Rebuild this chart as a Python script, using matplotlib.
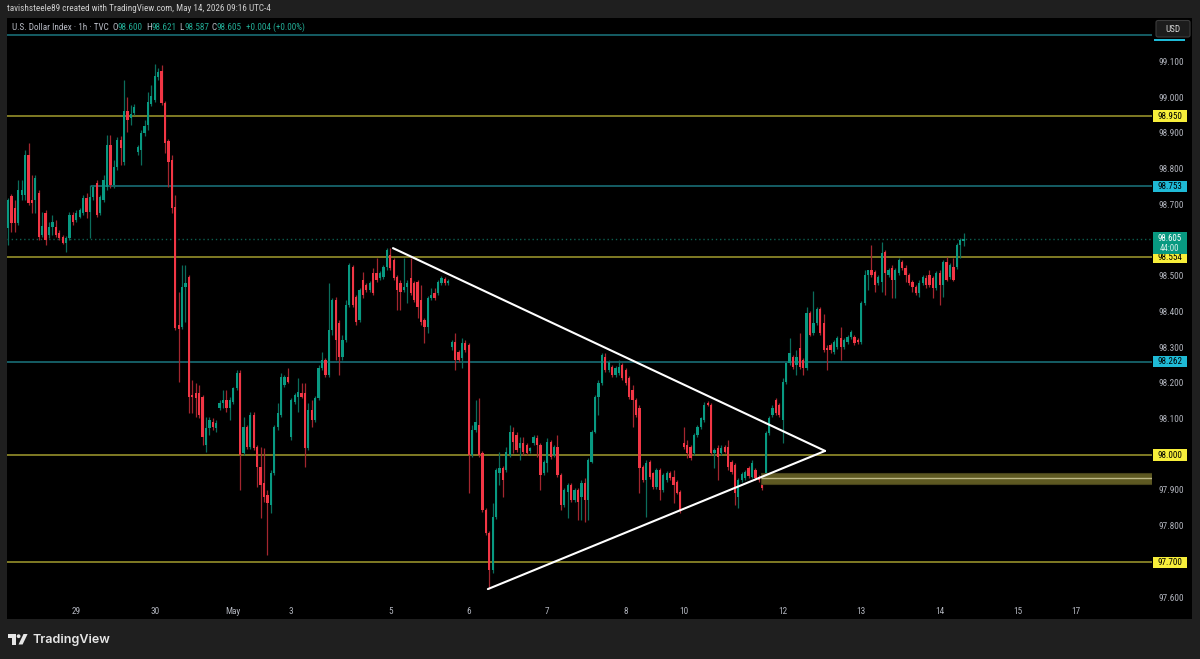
import numpy as np
import matplotlib
matplotlib.use('Agg')
import matplotlib.pyplot as plt
from matplotlib.transforms import Affine2D, blended_transform_factory
from matplotlib.patches import Rectangle, FancyBboxPatch, Polygon, Circle
from matplotlib import font_manager as fm

# ---------------- data (hourly candles, U.S. Dollar Index, TVC) ----------------
O = [98.636, 98.726, 98.692, 98.650, 98.729, 98.729, 98.841, 98.715, 98.715, 98.734,
     98.617, 98.678, 98.617, 98.639, 98.639, 98.622, 98.611, 98.594, 98.608, 98.673,
     98.659, 98.667, 98.678, 98.720, 98.681, 98.723, 98.762, 98.678, 98.715, 98.751,
     98.869, 98.757, 98.807, 98.883, 98.821, 98.964, 98.944, 98.958, 98.849, 98.855,
     98.902, 98.925, 98.984, 98.995, 99.059, 99.076, 98.986, 98.880, 98.827, 98.695,
     98.365, 98.359, 98.471, 98.499, 98.169, 98.174, 98.174, 98.163, 98.028, 98.076,
     98.093, 98.076, 98.132, 98.146, 98.155, 98.132, 98.149, 98.188, 98.230, 98.006,
     98.079, 98.023, 98.113, 98.023, 97.967, 97.922, 97.888, 97.860, 97.950, 98.079,
     98.113, 98.197, 98.219,
     98.051, 98.149, 98.163, 98.174, 98.174, 98.020, 98.127, 98.099, 98.160, 98.244,
     98.267, 98.225, 98.351, 98.435, 98.370, 98.275, 98.323, 98.421, 98.527, 98.443,
     98.379, 98.491, 98.477, 98.463, 98.510, 98.510, 98.496, 98.499, 98.527, 98.561,
     98.547, 98.499, 98.482, 98.463, 98.471, 98.496, 98.482, 98.485, 98.435, 98.379,
     98.359, 98.440, 98.454, 98.454, 98.482, 98.494, 98.482, 98.303, 98.317, 98.289,
     98.272, 98.314, 98.309,
     98.001, 98.071, 98.085, 98.006, 97.846, 97.782, 97.678, 97.827, 97.950, 97.964,
     97.958, 98.001, 98.065, 98.057, 98.020, 98.034, 98.028, 98.012, 98.034, 98.048,
     98.028, 97.950, 97.978, 98.037, 98.001, 98.023, 97.945, 97.860, 97.897, 97.917,
     97.874, 97.902, 97.883, 97.922, 97.874, 97.981, 98.065, 98.163, 98.202, 98.275,
     98.239, 98.247, 98.225, 98.230, 98.253, 98.239, 98.216, 98.183, 98.155, 98.132,
     97.967, 97.930, 97.981, 97.950, 97.911, 97.958, 97.902, 97.930, 97.950, 97.939,
     97.925, 97.897,
     98.034, 98.028, 98.023, 98.006, 98.057, 98.079, 98.099, 98.146, 98.141, 98.006,
     98.020, 98.006, 98.023, 98.023, 97.981, 97.972, 97.883, 97.930, 97.936, 97.964,
     97.939, 97.958, 97.939, 97.930, 97.930, 98.062, 98.113, 98.155, 98.141, 98.099,
     98.205, 98.258, 98.275, 98.253, 98.300, 98.267, 98.244, 98.398, 98.342, 98.370,
     98.409, 98.370, 98.300, 98.309, 98.289, 98.303, 98.328, 98.303, 98.317, 98.331,
     98.331, 98.323, 98.317, 98.426, 98.505, 98.519, 98.513, 98.482, 98.485, 98.569,
     98.505, 98.524, 98.491, 98.510, 98.541, 98.524, 98.505, 98.485, 98.471, 98.454,
     98.482, 98.496, 98.505, 98.496, 98.468, 98.510, 98.477, 98.541, 98.499, 98.527,
     98.527, 98.589, 98.600]
Hi = [98.720, 98.732, 98.715, 98.771, 98.771, 98.855, 98.874, 98.785, 98.785, 98.743,
      98.681, 98.687, 98.653, 98.673, 98.659, 98.631, 98.617, 98.614, 98.681, 98.681,
      98.687, 98.692, 98.729, 98.734, 98.757, 98.757, 98.771, 98.729, 98.785, 98.897,
      98.897, 98.827, 98.891, 98.894, 99.051, 99.003, 98.981, 98.984, 98.869, 98.911,
      98.939, 99.017, 99.037, 99.096, 99.085, 99.093, 98.992, 98.886, 98.841, 98.729,
      98.457, 98.533, 98.533, 98.505, 98.211, 98.202, 98.197, 98.169, 98.107, 98.107,
      98.104, 98.099, 98.155, 98.183, 98.183, 98.163, 98.191, 98.239, 98.239, 98.107,
      98.085, 98.121, 98.121, 98.028, 98.023, 98.020, 97.902, 97.958, 98.085, 98.146,
      98.230, 98.225, 98.244,
      98.160, 98.174, 98.216, 98.202, 98.202, 98.146, 98.155, 98.166, 98.253, 98.289,
      98.272, 98.482, 98.440, 98.443, 98.379, 98.337, 98.435, 98.538, 98.533, 98.449,
      98.468, 98.513, 98.482, 98.488, 98.524, 98.552, 98.516, 98.533, 98.580, 98.580,
      98.552, 98.505, 98.491, 98.552, 98.491, 98.552, 98.488, 98.491, 98.477, 98.384,
      98.446, 98.468, 98.468, 98.491, 98.502, 98.499, 98.494, 98.323, 98.342, 98.295,
      98.328, 98.323, 98.314,
      98.085, 98.155, 98.160, 98.012, 97.852, 97.788, 97.866, 97.964, 98.009, 97.970,
      98.023, 98.085, 98.079, 98.065, 98.051, 98.051, 98.034, 98.023, 98.057, 98.057,
      98.034, 97.987, 98.048, 98.043, 98.028, 98.057, 97.950, 97.908, 97.922, 97.922,
      97.908, 97.908, 97.930, 97.936, 97.992, 98.071, 98.169, 98.211, 98.286, 98.286,
      98.267, 98.253, 98.250, 98.267, 98.258, 98.244, 98.222, 98.197, 98.160, 98.141,
      97.972, 97.987, 97.987, 97.953, 97.964, 97.964, 97.950, 97.956, 97.956, 97.958,
      97.930, 97.902,
      98.079, 98.043, 98.028, 98.062, 98.085, 98.107, 98.149, 98.152, 98.146, 98.020,
      98.028, 98.028, 98.028, 98.043, 97.987, 97.978, 97.936, 97.953, 97.958, 97.970,
      97.987, 97.964, 97.945, 97.936, 98.068, 98.110, 98.141, 98.160, 98.146, 98.216,
      98.261, 98.328, 98.281, 98.295, 98.342, 98.272, 98.415, 98.404, 98.460, 98.415,
      98.415, 98.395, 98.309, 98.314, 98.323, 98.334, 98.359, 98.328, 98.337, 98.351,
      98.337, 98.328, 98.432, 98.519, 98.519, 98.589, 98.519, 98.505, 98.597, 98.575,
      98.524, 98.533, 98.524, 98.552, 98.547, 98.533, 98.510, 98.491, 98.477, 98.491,
      98.505, 98.505, 98.519, 98.502, 98.516, 98.519, 98.547, 98.555, 98.538, 98.552,
      98.594, 98.608, 98.621]
Lo = [98.589, 98.625, 98.625, 98.645, 98.715, 98.715, 98.701, 98.678, 98.678, 98.603,
      98.611, 98.589, 98.608, 98.617, 98.611, 98.603, 98.592, 98.569, 98.603, 98.645,
      98.653, 98.664, 98.673, 98.664, 98.608, 98.715, 98.667, 98.673, 98.709, 98.743,
      98.748, 98.748, 98.799, 98.813, 98.813, 98.905, 98.925, 98.953, 98.841, 98.813,
      98.894, 98.911, 98.978, 98.989, 99.051, 98.981, 98.846, 98.751, 98.678, 98.351,
      98.205, 98.353, 98.373, 98.118, 98.118, 98.107, 98.104, 98.028, 98.009, 98.057,
      98.071, 98.065, 98.127, 98.132, 98.121, 98.099, 98.143, 98.183, 97.902, 98.001,
      98.017, 98.017, 98.015, 97.911, 97.824, 97.869, 97.720, 97.838, 97.945, 98.071,
      98.107, 98.191, 98.202,
      98.043, 98.143, 98.121, 98.160, 97.967, 98.015, 98.079, 98.093, 98.155, 98.239,
      98.219, 98.219, 98.337, 98.267, 98.225, 98.267, 98.317, 98.415, 98.415, 98.365,
      98.373, 98.440, 98.457, 98.457, 98.449, 98.485, 98.491, 98.494, 98.519, 98.519,
      98.491, 98.407, 98.407, 98.457, 98.426, 98.449, 98.430, 98.384, 98.365, 98.314,
      98.342, 98.435, 98.435, 98.449, 98.477, 98.477, 98.477, 98.295, 98.239, 98.261,
      98.244, 98.289, 97.894,
      97.995, 98.065, 97.995, 97.840, 97.777, 97.625, 97.670, 97.821, 97.917, 97.883,
      97.953, 97.995, 98.006, 98.009, 97.987, 98.001, 98.001, 98.006, 98.028, 97.995,
      97.902, 97.945, 97.953, 97.990, 97.995, 97.939, 97.846, 97.855, 97.824, 97.869,
      97.869, 97.818, 97.818, 97.813, 97.818, 97.978, 98.062, 98.113, 98.197, 98.233,
      98.233, 98.219, 98.219, 98.225, 98.211, 98.197, 98.157, 98.079, 98.107, 97.894,
      97.925, 97.827, 97.933, 97.905, 97.905, 97.874, 97.897, 97.925, 97.930, 97.866,
      97.891, 97.838,
      98.017, 97.992, 97.987, 98.001, 98.051, 98.073, 98.093, 98.138, 98.001, 97.964,
      97.930, 98.001, 98.006, 97.958, 97.947, 97.860, 97.852, 97.925, 97.930, 97.936,
      97.936, 97.930, 97.925, 97.902, 97.925, 98.057, 98.107, 98.113, 98.107, 98.034,
      98.200, 98.253, 98.241, 98.225, 98.241, 98.225, 98.239, 98.334, 98.337, 98.365,
      98.337, 98.289, 98.239, 98.286, 98.284, 98.298, 98.267, 98.298, 98.312, 98.326,
      98.309, 98.312, 98.312, 98.421, 98.463, 98.499, 98.457, 98.477, 98.457, 98.449,
      98.499, 98.440, 98.440, 98.505, 98.519, 98.485, 98.477, 98.457, 98.449, 98.443,
      98.477, 98.468, 98.471, 98.440, 98.463, 98.421, 98.443, 98.488, 98.494, 98.488,
      98.522, 98.552, 98.587]
C = [98.715, 98.650, 98.650, 98.743, 98.743, 98.841, 98.706, 98.706, 98.776, 98.611,
     98.642, 98.603, 98.639, 98.653, 98.617, 98.608, 98.594, 98.608, 98.673, 98.653,
     98.678, 98.687, 98.720, 98.681, 98.723, 98.751, 98.673, 98.723, 98.771, 98.869,
     98.757, 98.807, 98.883, 98.860, 98.964, 98.939, 98.956, 98.975, 98.863, 98.902,
     98.922, 98.989, 99.006, 99.062, 99.073, 98.986, 98.874, 98.821, 98.692, 98.356,
     98.353, 98.471, 98.482, 98.163, 98.163, 98.160, 98.113, 98.051, 98.076, 98.099,
     98.079, 98.090, 98.146, 98.155, 98.132, 98.155, 98.188, 98.230, 98.001, 98.079,
     98.023, 98.113, 98.020, 97.967, 97.917, 97.883, 97.866, 97.950, 98.079, 98.118,
     98.219, 98.219, 98.205,
     98.155, 98.169, 98.177, 98.163, 98.020, 98.127, 98.099, 98.160, 98.244, 98.267,
     98.225, 98.351, 98.435, 98.323, 98.275, 98.323, 98.421, 98.533, 98.421, 98.373,
     98.463, 98.449, 98.463, 98.482, 98.454, 98.491, 98.510, 98.527, 98.575, 98.524,
     98.496, 98.463, 98.457, 98.471, 98.482, 98.454, 98.435, 98.415, 98.373, 98.359,
     98.440, 98.449, 98.440, 98.485, 98.496, 98.482, 98.488, 98.317, 98.267, 98.267,
     98.314, 98.295, 98.001,
     98.071, 98.093, 98.001, 97.846, 97.782, 97.678, 97.827, 97.958, 97.964, 97.930,
     98.009, 98.065, 98.037, 98.015, 98.034, 98.009, 98.006, 98.020, 98.051, 98.028,
     97.945, 97.981, 98.037, 97.995, 98.023, 97.945, 97.860, 97.902, 97.917, 97.874,
     97.902, 97.869, 97.922, 97.874, 97.987, 98.065, 98.163, 98.202, 98.281, 98.239,
     98.261, 98.225, 98.244, 98.247, 98.216, 98.202, 98.163, 98.155, 98.113, 97.964,
     97.930, 97.978, 97.939, 97.911, 97.958, 97.902, 97.945, 97.950, 97.936, 97.917,
     97.894, 97.846,
     98.023, 98.006, 97.992, 98.057, 98.079, 98.104, 98.141, 98.141, 98.006, 98.015,
     97.995, 98.020, 98.009, 97.967, 97.953, 97.894, 97.930, 97.947, 97.953, 97.942,
     97.978, 97.936, 97.930, 97.908, 98.062, 98.104, 98.132, 98.118, 98.113, 98.205,
     98.258, 98.286, 98.247, 98.275, 98.247, 98.244, 98.398, 98.337, 98.370, 98.409,
     98.342, 98.295, 98.295, 98.295, 98.317, 98.328, 98.303, 98.323, 98.331, 98.345,
     98.314, 98.317, 98.426, 98.505, 98.519, 98.505, 98.477, 98.499, 98.566, 98.510,
     98.519, 98.491, 98.519, 98.547, 98.524, 98.505, 98.482, 98.471, 98.454, 98.482,
     98.499, 98.477, 98.477, 98.468, 98.510, 98.477, 98.541, 98.491, 98.533, 98.491,
     98.589, 98.603, 98.605]

TIME_LABELS = ["29", "30", "May", "3", "5", "6", "7", "8", "10", "12", "13", "14", "15", "17"]
TIME_BARS = [20, 43, 66, 83, 112, 135, 158, 181, 198, 227, 250, 273, 296, 313]
PRICE_TICKS = [97.6, 97.7, 97.8, 97.9, 98.0, 98.1, 98.2, 98.3, 98.4, 98.5, 98.6, 98.7, 98.8, 98.9, 99.0, 99.1]

YELLOW_LEVELS = [98.950, 98.554, 98.000, 97.700]
TEAL_LEVELS = [98.753, 98.262]
TEAL_LEVEL_STARTS = [24.3, -0.3]
TOP_LEVEL = 99.177
LAST_PRICE = 98.605
COUNTDOWN = "44:00"
ZONE_LOW, ZONE_MID, ZONE_HIGH, ZONE_START = 97.919, 97.936, 97.951, 220.6
TRI_UPPER = [(112.8, 98.580), (239.4, 98.012)]
TRI_LOWER = [(140.6, 97.625), (239.4, 98.012)]

HEADER = "tavishsteele89 created with TradingView.com, May 14, 2026 09:16 UTC-4"
LEGEND_NAME = "U.S. Dollar Index \u00b7 1h \u00b7 TVC"
LEGEND_OHLC = [("O", "98.600"), ("H", "98.621"), ("L", "98.587"), ("C", "98.605")]
LEGEND_CHG = "+0.004 (+0.00%)"

# ---------------- style ----------------
names = {f.name for f in fm.fontManager.ttflist}
FONT = 'Liberation Sans'
for cand in ['Liberation Sans Narrow', 'DejaVu Sans Condensed', 'Roboto Condensed',
             'Open Sans Condensed', 'Liberation Sans']:
    if cand in names:
        FONT = cand
        break
plt.rcParams['font.family'] = [FONT, 'DejaVu Sans']

BG_OUT = '#1f1f1f'
UP, DN = '#089981', '#f23645'
UP_W, DN_W = '#0b6d5c', '#a3262f'
YEL_LINE, YEL_LBL = '#a29c2e', '#f7ee3a'
TEAL_LINE, TEAL_LBL = '#17646c', '#1fbad6'
AX_TXT = '#b2b5be'

W, Hpx = 1200, 659
fig = plt.figure(figsize=(W / 100, Hpx / 100), dpi=100, facecolor=BG_OUT)
PX = Affine2D().scale(1 / W, -1 / Hpx).translate(0, 1) + fig.transFigure
renderer = fig.canvas.get_renderer()


def fit_size(text, target_px, base=8.0, **kw):
    t = fig.text(0, 0, text, fontsize=base, **kw)
    w = t.get_window_extent(renderer=renderer).width
    t.remove()
    return base * target_px / w


# font sizes fitted to the reference widths
FS_HEAD = fit_size(HEADER, 262)
FS_LEG = fit_size(LEGEND_NAME, 96)
FS_AX = min(7.6, fit_size("99.100", 25.5))
FS_LBL = min(FS_AX, fit_size("98.950", 25))
FS_CUR = min(FS_LBL, 6.3)
FS_LOGO = fit_size("TradingView", 78, family=['Inter', 'DejaVu Sans'], weight='semibold')

# black panel
fig.patches.append(Rectangle((7, 18), 1185, 601, transform=PX, fc='black', ec='none', zorder=-5))

ax = fig.add_axes([7 / W, 1 - 603 / Hpx, (1152 - 7) / W, (603 - 18) / Hpx])
ax.set_facecolor('black')
ax.set_xlim(-0.3, 335.2)
ax.set_ylim(97.586, 99.2246)
for s in ax.spines.values():
    s.set_visible(False)
ax.set_xticks([]); ax.set_yticks([])

# candles
O_, H_, L_, C_ = map(np.array, (O, Hi, Lo, C))
idx = np.arange(len(C_))
up = C_ >= O_
ax.vlines(idx, L_, H_, colors=np.where(up, UP_W, DN_W), lw=0.9, zorder=3)
ax.bar(idx, np.maximum(np.abs(C_ - O_), 0.0018), bottom=np.minimum(O_, C_), width=0.66,
       color=np.where(up, UP, DN), lw=0, zorder=4)

# horizontal levels
for lv in YELLOW_LEVELS:
    ax.axhline(lv, color=YEL_LINE, lw=1.1, zorder=2)
for lv, st in zip(TEAL_LEVELS, TEAL_LEVEL_STARTS):
    ax.hlines(lv, st, 335.2, color=TEAL_LINE, lw=1.3, zorder=2)
ax.axhline(TOP_LEVEL, color=TEAL_LINE, lw=1.3, zorder=2)
ax.axhline(LAST_PRICE, color='#0d5e50', lw=1.0, ls=(0, (1, 2)), zorder=2)

# zone rectangle
ax.add_patch(Rectangle((ZONE_START, ZONE_LOW), 335.2 - ZONE_START, ZONE_HIGH - ZONE_LOW,
                       fc='#5e5922', ec='#46421a', lw=0.8, zorder=5))
ax.hlines(ZONE_MID, ZONE_START, 335.2, color='#bdb886', lw=1.0, zorder=6)

# triangle
for seg in (TRI_UPPER, TRI_LOWER):
    ax.plot([p[0] for p in seg], [p[1] for p in seg], color='white', lw=1.5,
            solid_capstyle='round', zorder=7)

PPX = 1 / 357.0   # price per pixel
LABELLED = YELLOW_LEVELS + TEAL_LEVELS + [LAST_PRICE]

# price axis ticks (ticks hidden by a price label are skipped, as on TradingView)
bt_y = blended_transform_factory(fig.transFigure, ax.transData)
for p in PRICE_TICKS:
    if any(abs(p - q) < 8 * PPX for q in LABELLED):
        continue
    ax.text(1171 / W, p, f"{p:.3f}", transform=bt_y, ha='center', va='center',
            color=AX_TXT, fontsize=FS_AX, clip_on=False, zorder=10)


def price_label(price, fc, tc, text=None):
    h = 11.5 * PPX
    ax.add_patch(Rectangle((1153 / W, price - h / 2), 34 / W, h, transform=bt_y,
                           fc=fc, ec='none', clip_on=False, zorder=11))
    ax.text(1170 / W, price, text or f"{price:.3f}", transform=bt_y, ha='center',
            va='center', color=tc, fontsize=FS_LBL, clip_on=False, zorder=12)


for lv in YELLOW_LEVELS:
    price_label(lv, YEL_LBL, 'black')
for lv in TEAL_LEVELS:
    price_label(lv, TEAL_LBL, 'black')

# top level label is hidden under the USD box; only its lower edge shows
fig.patches.append(Rectangle((1154, 38.6), 31, 2.2, transform=PX, fc=TEAL_LBL, ec='none', zorder=19))

# current price label (two lines)
ax.add_patch(Rectangle((1153 / W, LAST_PRICE - 15 * PPX), 34 / W, 22 * PPX, transform=bt_y,
                       fc=UP, ec='none', clip_on=False, zorder=13))
ax.text(1170 / W, LAST_PRICE + 1.2 * PPX, f"{LAST_PRICE:.3f}", transform=bt_y, ha='center',
        va='center', color='white', fontsize=FS_CUR, clip_on=False, zorder=14)
ax.text(1170 / W, LAST_PRICE - 9.5 * PPX, COUNTDOWN, transform=bt_y, ha='center', va='center',
        color='#d8efe9', fontsize=FS_CUR, clip_on=False, zorder=14)

# USD box
fig.patches.append(FancyBboxPatch((1156, 20.5), 34, 16.5, boxstyle='round,pad=0,rounding_size=2',
                                  transform=PX, fc='#1c1c1c', ec='#3c3c3c', lw=0.8, zorder=20))
fig.text(1173, 29, "USD", transform=PX, ha='center', va='center', color='#d6d6d6',
         fontsize=FS_LBL, zorder=21)

# time axis
bt_x = blended_transform_factory(ax.transData, fig.transFigure)
for lab, b in zip(TIME_LABELS, TIME_BARS):
    ax.text(b, 1 - 611 / Hpx, lab, transform=bt_x, ha='center', va='center', color=AX_TXT,
            fontsize=FS_AX, clip_on=False)

# header
fig.text(7, 8.5, HEADER, transform=PX, ha='left', va='center', color='#cfcfcf', fontsize=FS_HEAD)
fig.text(11.7, 27, LEGEND_NAME, transform=PX, ha='left', va='center', color='#b8bbc4', fontsize=FS_LEG)
GREEN_TXT = '#22ab94'
xs = [112.5, 146.5, 179.5, 211.5]
for (k, v), x in zip(LEGEND_OHLC, xs):
    fig.text(x, 27, k, transform=PX, ha='left', va='center', color='#b8bbc4', fontsize=FS_LEG)
    fig.text(x + 4.8, 27, v, transform=PX, ha='left', va='center', color=GREEN_TXT, fontsize=FS_LEG)
fig.text(245.5, 27, LEGEND_CHG, transform=PX, ha='left', va='center', color=GREEN_TXT, fontsize=FS_LEG)

# TradingView logo
logo_c = '#e6e6e6'
fig.patches.append(Rectangle((8, 634), 8, 3.6, transform=PX, fc=logo_c, ec='none'))
fig.patches.append(Rectangle((12, 634), 4, 10.5, transform=PX, fc=logo_c, ec='none'))
fig.patches.append(Circle((18.6, 636.2), 1.9, transform=PX, fc=logo_c, ec='none'))
fig.patches.append(Polygon([(18.5, 644.5), (22.6, 644.5), (27.6, 634), (23.5, 634)], closed=True,
                           transform=PX, fc=logo_c, ec='none'))
fig.text(32.5, 639.5, "TradingView", transform=PX, ha='left', va='center', color=logo_c,
         fontsize=FS_LOGO, family=['Inter', 'DejaVu Sans'], weight='semibold')

fig.savefig('out.png', dpi=100, facecolor=BG_OUT)
